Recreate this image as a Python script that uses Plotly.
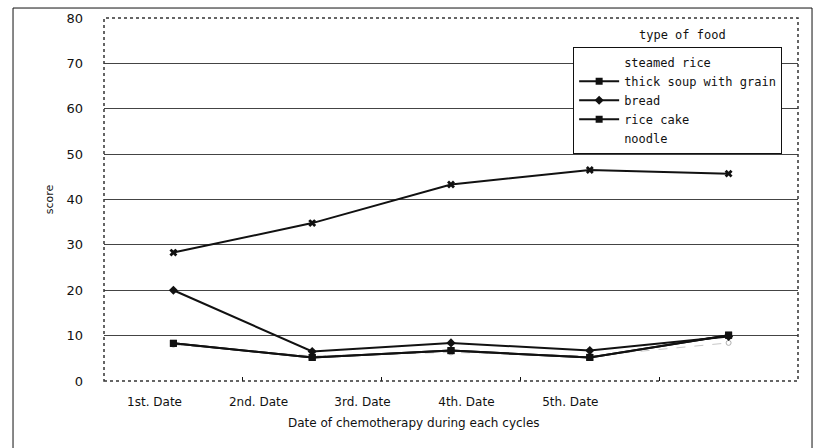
import plotly.graph_objects as go

# Chemotherapy visit dates (x categories)
dates = ["1st. Date", "2nd. Date", "3rd. Date", "4th. Date", "5th. Date"]

# Preference score per food type
steamed_rice = [28.3, 34.8, 43.3, 46.5, 45.7]
thick_soup_with_grain = [8.3, 5.2, 6.7, 5.2, 10.1]
bread = [20.0, 6.5, 8.4, 6.7, 9.8]
rice_cake = [8.3, 5.2, 6.7, 5.2, 10.1]
noodle = [8.0, 5.5, 6.3, 5.5, 8.4]

y_ticks = [0, 10, 20, 30, 40, 50, 60, 70, 80]

FONT = "DejaVu Sans"
MONO = "DejaVu Sans Mono"
INK = "#111111"

fig = go.Figure()

# light dashed series, drawn first so the dark lines sit on top
fig.add_trace(go.Scatter(
    x=dates, y=noodle, mode="lines+markers", name="noodle",
    line=dict(color="#c8c8c8", width=1, dash="dash"),
    marker=dict(symbol="circle-open", size=5, color="#b0b0b0"),
    showlegend=False,
))
fig.add_trace(go.Scatter(
    x=dates, y=steamed_rice, mode="lines+markers", name="steamed rice",
    line=dict(color=INK, width=2),
    marker=dict(symbol="x", size=7, color=INK),
    showlegend=False,
))
fig.add_trace(go.Scatter(
    x=dates, y=thick_soup_with_grain, mode="lines+markers",
    name="thick soup with grain", legendrank=2,
    line=dict(color=INK, width=2),
    marker=dict(symbol="square", size=7, color=INK),
))
fig.add_trace(go.Scatter(
    x=dates, y=bread, mode="lines+markers", name="bread", legendrank=3,
    line=dict(color=INK, width=2),
    marker=dict(symbol="diamond", size=7, color=INK),
))
fig.add_trace(go.Scatter(
    x=dates, y=rice_cake, mode="lines+markers", name="rice cake", legendrank=4,
    line=dict(color=INK, width=2),
    marker=dict(symbol="square", size=7, color=INK),
))

# legend-only entries whose keys are left blank
for nm, rank in (("steamed rice", 1), ("noodle", 5)):
    fig.add_trace(go.Scatter(
        x=[None], y=[None], mode="lines", name=nm, legendrank=rank,
        line=dict(color="rgba(0,0,0,0)", width=1),
    ))

fig.update_layout(
    width=826, height=448,
    margin=dict(l=104, r=28, t=18, b=67),
    paper_bgcolor="white", plot_bgcolor="white",
    font=dict(family=FONT, size=12, color=INK),
    showlegend=True,
    legend=dict(
        x=0.676, y=0.921, xanchor="left", yanchor="top",
        bordercolor=INK, borderwidth=1, bgcolor="white",
        font=dict(family=MONO, size=12, color=INK),
        itemwidth=40, tracegroupgap=0, traceorder="normal",
    ),
    xaxis=dict(
        type="category", range=[-0.5, 4.5],
        showticklabels=False, showgrid=False, zeroline=False,
        ticks="inside", tickson="boundaries", ticklen=4,
        tickcolor=INK, tickwidth=1, showline=False,
    ),
    # second x axis carries the category names
    xaxis2=dict(
        overlaying="x", side="bottom", range=[-0.486, 6.19],
        tickmode="array", tickvals=list(range(len(dates))), ticktext=dates,
        showgrid=False, zeroline=False, showline=False, ticks="",
        ticklabelstandoff=12,
        tickfont=dict(family=FONT, size=12, color=INK),
    ),
    yaxis=dict(
        range=[0, 80], tickmode="array", tickvals=y_ticks,
        showgrid=True, gridcolor="#444444", gridwidth=1,
        zeroline=False, showline=False, ticks="",
        ticklabelstandoff=20,
        tickfont=dict(family=FONT, size=13, color=INK),
        title=dict(text="score", font=dict(family=FONT, size=11, color=INK),
                   standoff=10),
    ),
)

# dummy trace so the category-name axis is rendered
fig.add_trace(go.Scatter(x=[None], y=[None], xaxis="x2", showlegend=False,
                         hoverinfo="skip"))

# dotted plot-area frame
fig.add_shape(type="rect", xref="paper", yref="paper", x0=0, y0=0, x1=1, y1=1,
              line=dict(color="#333333", width=1.5, dash="dot"), layer="above")

# outer chart frame
fig.add_shape(type="rect", xref="paper", yref="paper",
              x0=-0.1311, y0=-0.25, x1=1.0202, y1=1.0275,
              line=dict(color=INK, width=1))

# legend heading and x-axis title
fig.add_annotation(text="type of food", xref="paper", yref="paper",
                   x=0.833, y=0.953, xanchor="center", yanchor="middle",
                   showarrow=False,
                   font=dict(family=MONO, size=12, color=INK))
fig.add_annotation(text="Date of chemotherapy during each cycles",
                   xref="paper", yref="paper", x=0.446, y=-0.115,
                   xanchor="center", yanchor="middle",
                   showarrow=False, font=dict(family=FONT, size=12, color=INK))

fig.write_html("out.html")
